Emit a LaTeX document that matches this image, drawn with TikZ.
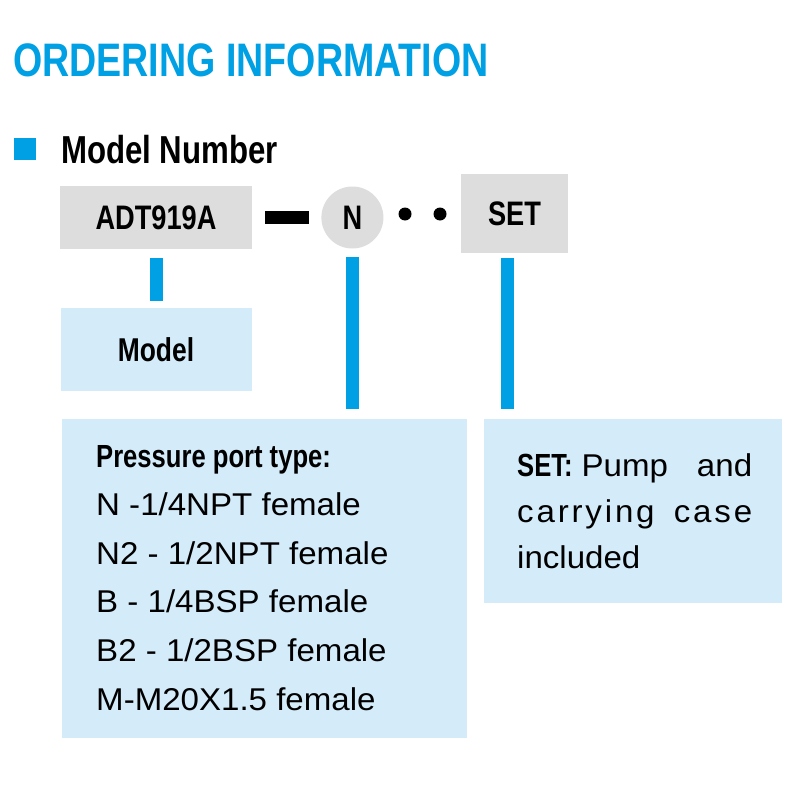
\documentclass[tikz,border=0pt]{standalone}
\usepackage{fontspec}
\setmainfont{Liberation Sans}
\newfontfamily\condfont[FakeStretch=0.8]{Liberation Sans}
\newfontfamily\bodyfont[FakeStretch=1.05]{Liberation Sans}
\newfontfamily\spacedfont[FakeStretch=1.05,LetterSpace=9]{Liberation Sans}
\usetikzlibrary{positioning}
\definecolor{ordblue}{RGB}{0,160,228}
\definecolor{boxgray}{RGB}{221,221,221}
\definecolor{boxblue}{RGB}{212,235,249}
\tikzstyle{graybox} = [
        rectangle, fill=boxgray, inner sep=0pt,
        font=\condfont\bfseries\fontsize{34}{40}\selectfont
    ]
\tikzstyle{bluebox} = [rectangle, fill=boxblue, inner sep=0pt]
\tikzstyle{bar} = [draw=ordblue, line width=13pt]
\tikzstyle{hyphenbar} = [draw=black, line width=13pt]
\tikzstyle{dot} = [circle, fill=black, minimum size=13pt, inner sep=0pt]
\tikzstyle{bodyline} = [
        anchor=base west, inner sep=0pt,
        font=\bodyfont\fontsize{31.5}{38}\selectfont
    ]

\begin{document}
\begin{tikzpicture}[x=1pt, y=-1pt]
    \useasboundingbox[fill=white] (0,0) rectangle (800,800);

    \node [anchor=base west, inner sep=0pt, text=ordblue,
        font=\condfont\bfseries\fontsize{47}{56}\selectfont] (title) at (13,77) {ORDERING INFORMATION};
    \node [rectangle, fill=ordblue, minimum size=22pt, inner sep=0pt] (bullet) at (25,149) {};
    \node [anchor=base west, inner sep=0pt,
        font=\condfont\bfseries\fontsize{39}{46}\selectfont] (modelnum) at (61,163) {Model Number};

    \node [graybox, minimum width=192pt, minimum height=63pt] (adt) at (156,217.5) {ADT919A};
    \node [graybox, circle, minimum size=62pt, right=69pt of adt] (port) {N};
    \node [dot] (dot1) at (405,214) {};
    \node [dot] (dot2) at (440,214) {};
    \node [graybox, minimum width=107pt, minimum height=79pt] (set) at (514.5,213.5) {SET};

    \node [bluebox, minimum width=191pt, minimum height=83pt, below=59pt of adt,
        font=\condfont\bfseries\fontsize{33}{40}\selectfont] (model) {Model};
    \node [bluebox, minimum width=405pt, minimum height=319pt, anchor=north west] (portbox) at (62,419) {};
    \node [bluebox, minimum width=298pt, minimum height=184pt, anchor=north west] (setbox) at (484,419) {};

    % pressure port types
    \node [anchor=base west, inner sep=0pt,
        font=\condfont\bfseries\fontsize{32}{38}\selectfont] (porthead) at (96,467) {Pressure port type:};
    \foreach \txt [count=\i] in {N -1/4NPT female, N2 - 1/2NPT female, B - 1/4BSP female,
            B2 - 1/2BSP female, M-M20X1.5 female}
        \node [bodyline] (porttype\i) at (96,467+48.6*\i) {\txt};

    % set note
    \node [bodyline] (set1) at (517,476) {\makebox[235pt][l]{{\condfont\bfseries\fontsize{32}{38}\selectfont SET:}\hspace{9pt}Pump\hfill and}};
    \node [bodyline] (set2) at (517,522) {\makebox[235pt][s]{\spacedfont carrying case}};
    \node [bodyline] (set3) at (517,568) {included};

    \draw [hyphenbar, shorten <=13pt, shorten >=12pt] (adt.east) -- (port.west);
    \draw [bar, shorten <=9pt, shorten >=7pt] (adt.south) -- (model.north);
    \draw [bar, shorten <=8pt, shorten >=10pt] (port.south) -- (port.south |- portbox.north);
    \draw [bar, shorten <=5pt, shorten >=10pt] ([xshift=-7pt]set.south) -- ([xshift=-7pt]set.south |- setbox.north);
\end{tikzpicture}
\end{document}
